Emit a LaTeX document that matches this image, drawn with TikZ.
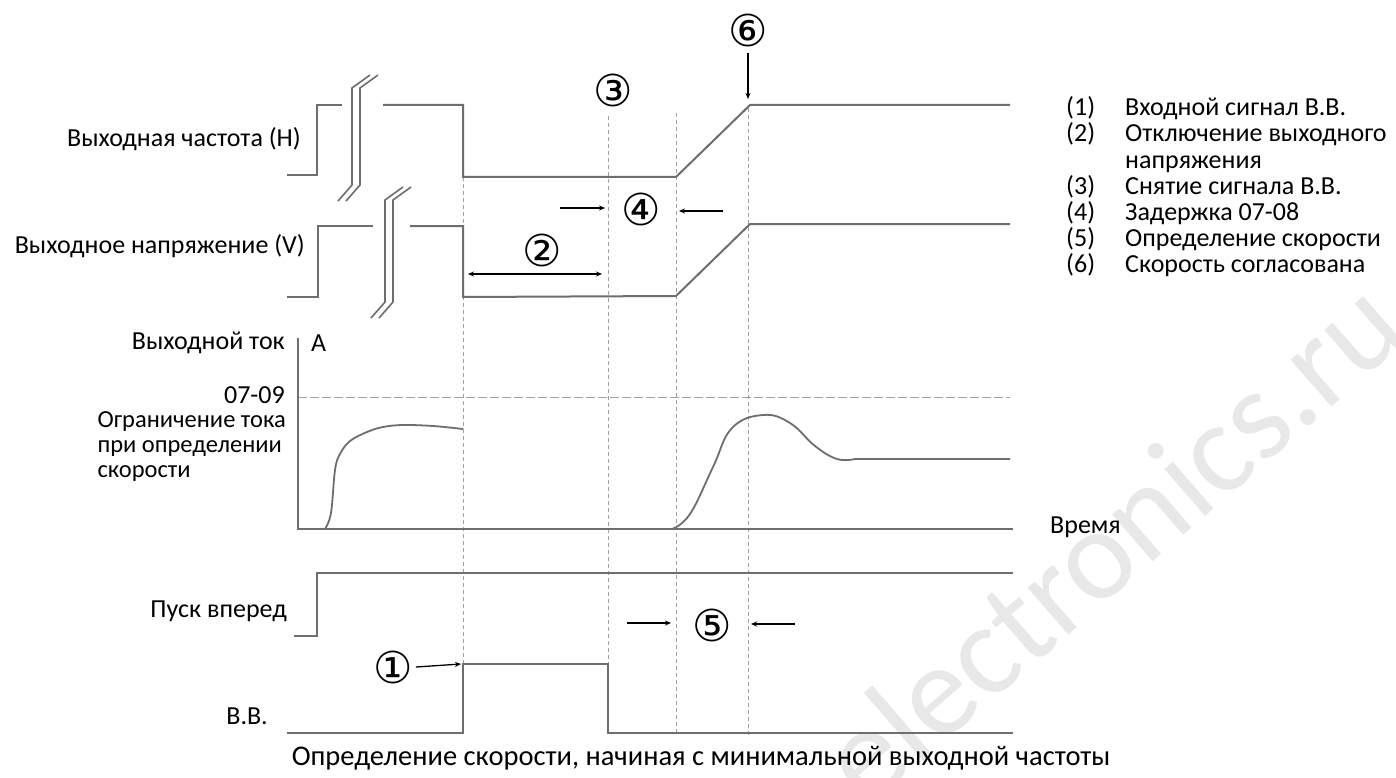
\documentclass[tikz,border=0pt]{standalone}
\usepackage{fontspec}
\setmainfont{Carlito}
\newfontfamily\circfont{DejaVu Sans}
\usetikzlibrary{arrows.meta}
\definecolor{wavegray}{HTML}{6E6E6E}
\definecolor{guidegray}{HTML}{A0A0A0}
\tikzset{
  wave/.style={draw=wavegray, line width=2pt, line join=miter},
  guide/.style={draw=guidegray, line width=0.8pt, dash pattern=on 4pt off 3pt},
  limitline/.style={draw=guidegray, line width=1pt, dash pattern=on 9pt off 3pt},
  lbl/.style={font=\fontsize{26}{25}\selectfont, inner sep=0pt, text=black},
  smalllbl/.style={font=\fontsize{24.5}{25}\selectfont, inner sep=0pt, text=black},
  leg/.style={font=\fontsize{26}{26}\selectfont, inner sep=0pt, anchor=base west, text=black},
  circ/.style={font=\circfont\fontsize{44}{44}\selectfont, inner sep=0pt, text=black},
  marker/.style={draw=black, line width=1.3pt, -{Stealth[length=6pt,width=5pt]}},
  breakmark/.style={draw=wavegray, line width=1.6pt}
}
\begin{document}
\begin{tikzpicture}[x=1pt,y=-1pt]
\useasboundingbox (0,0) rectangle (1396,778);
\fill[white] (0,0) rectangle (1396,778);

% watermark
\node[text=gray!18, font=\fontsize{130}{130}\selectfont, rotate=41, inner sep=0pt] (wm) at (1110,540) {electronics.ru};

% dashed guide lines
\draw[guide] (463,177) -- (463,664);
\draw[guide] (608,116) -- (608,664);
\draw[guide] (676,113) -- (676,735);
\draw[guide] (748,108) -- (748,735);
\draw[limitline] (298,397) -- (1010,397);

% output frequency
\draw[wave] (287,175) -- (317,175) -- (317,105) -- (342,105);
\draw[wave] (383,105) -- (463,105) -- (463,177) -- (676,177) -- (750,105) -- (1010,105);
\foreach \c in {352,360}{
  \draw[breakmark] (\c+18,75) -- (\c,88) -- (\c,185) -- (\c-14,201);
}
% output voltage
\draw[wave] (287,297) -- (318,297) -- (318,226) -- (373,226);
\draw[wave] (410,226) -- (463,226) -- (463,297) -- (676,296) -- (750,224) -- (1010,224);
\foreach \c in {385,393}{
  \draw[breakmark] (\c+18,187) -- (\c,200) -- (\c,302) -- (\c-14,318);
}
% current axes
\draw[wave] (298,338) -- (298,529) -- (1013,529);
\draw[wave, line width=1.8pt] plot[smooth, tension=0.6] coordinates {(325,529) (331,513) (335,470) (340,454) (350,441) (367,432) (383,427) (403,425) (433,426) (463,429)};
\draw[wave, line width=1.8pt] plot[smooth, tension=0.7] coordinates {(672,529) (690,514) (713,467) (732,428) (763,415) (790,423) (815,446) (837,459) (855,459)} -- (1010,459);

% forward run
\draw[wave] (294,636) -- (317,636) -- (317,573) -- (1013,573);
% B.B.
\draw[wave] (287,733) -- (463,733) -- (463,664) -- (608,664) -- (608,733) -- (1013,733);

% labels
\node[lbl, anchor=east] (lf) at (301,139) {Выходная частота (H)};
\node[lbl, anchor=east] (lv) at (305,246) {Выходное напряжение (V)};
\node[lbl, anchor=east] (li) at (285,343) {Выходной ток};
\node[lbl, anchor=west] (la) at (311,343) {A};
\node[lbl, anchor=east] (l79) at (285,395) {07-09};
\node[smalllbl, anchor=east, align=left] (llim) at (286,447) {Ограничение тока\\при определении\\скорости};
\node[lbl, anchor=west] (lt) at (1050,527) {Время};
\node[lbl, anchor=east] (lfwd) at (287,611) {Пуск вперед};
\node[lbl, anchor=east] (lbb) at (268,716) {В.В.};
\node[lbl, font=\fontsize{28.5}{28.5}\selectfont] (cap) at (701,758) {Определение скорости, начиная с минимальной выходной частоты};

% legend
\node[leg] (n1) at (1066,116) {(1)};
\node[leg] (t1) at (1125,116) {Входной сигнал В.В.};
\node[leg] (n2) at (1066,142) {(2)};
\node[leg] (t2) at (1125,142) {Отключение выходного};
\node[leg] (t2b) at (1125,168) {напряжения};
\node[leg] (n3) at (1066,194) {(3)};
\node[leg] (t3) at (1125,194) {Снятие сигнала В.В.};
\node[leg] (n4) at (1066,220) {(4)};
\node[leg] (t4) at (1125,220) {Задержка 07-08};
\node[leg] (n5) at (1066,246) {(5)};
\node[leg] (t5) at (1125,246) {Определение скорости};
\node[leg] (n6) at (1066,272) {(6)};
\node[leg] (t6) at (1125,272) {Скорость согласована};

% circled markers
\node[circ] (c1) at (393,667) {①};
\node[circ] (c2) at (542,250) {②};
\node[circ] (c3) at (613,90) {③};
\node[circ] (c4) at (641,209) {④};
\node[circ] (c5) at (712,625) {⑤};
\node[circ] (c6) at (748,30) {⑥};

% marker arrows
\coordinate (a1) at (461,664);
\draw[marker] (c1.east) ++(3,0) -- (a1);
\coordinate (a6) at (748,99);
\draw[marker] (c6.south) ++(0,6) -- (a6);
\coordinate (a2l) at (468,274);
\coordinate (a2r) at (602,274);
\draw[marker, {Stealth[length=6pt,width=5pt]}-{Stealth[length=6pt,width=5pt]}] (a2l) -- (a2r);
\coordinate (a4la) at (560,208); \coordinate (a4lb) at (605,208);
\coordinate (a4ra) at (723,211); \coordinate (a4rb) at (679,211);
\draw[marker] (a4la) -- (a4lb);
\draw[marker] (a4ra) -- (a4rb);
\coordinate (a5la) at (627,623); \coordinate (a5lb) at (671,623);
\coordinate (a5ra) at (795,624); \coordinate (a5rb) at (751,624);
\draw[marker] (a5la) -- (a5lb);
\draw[marker] (a5ra) -- (a5rb);
\end{tikzpicture}
\end{document}
